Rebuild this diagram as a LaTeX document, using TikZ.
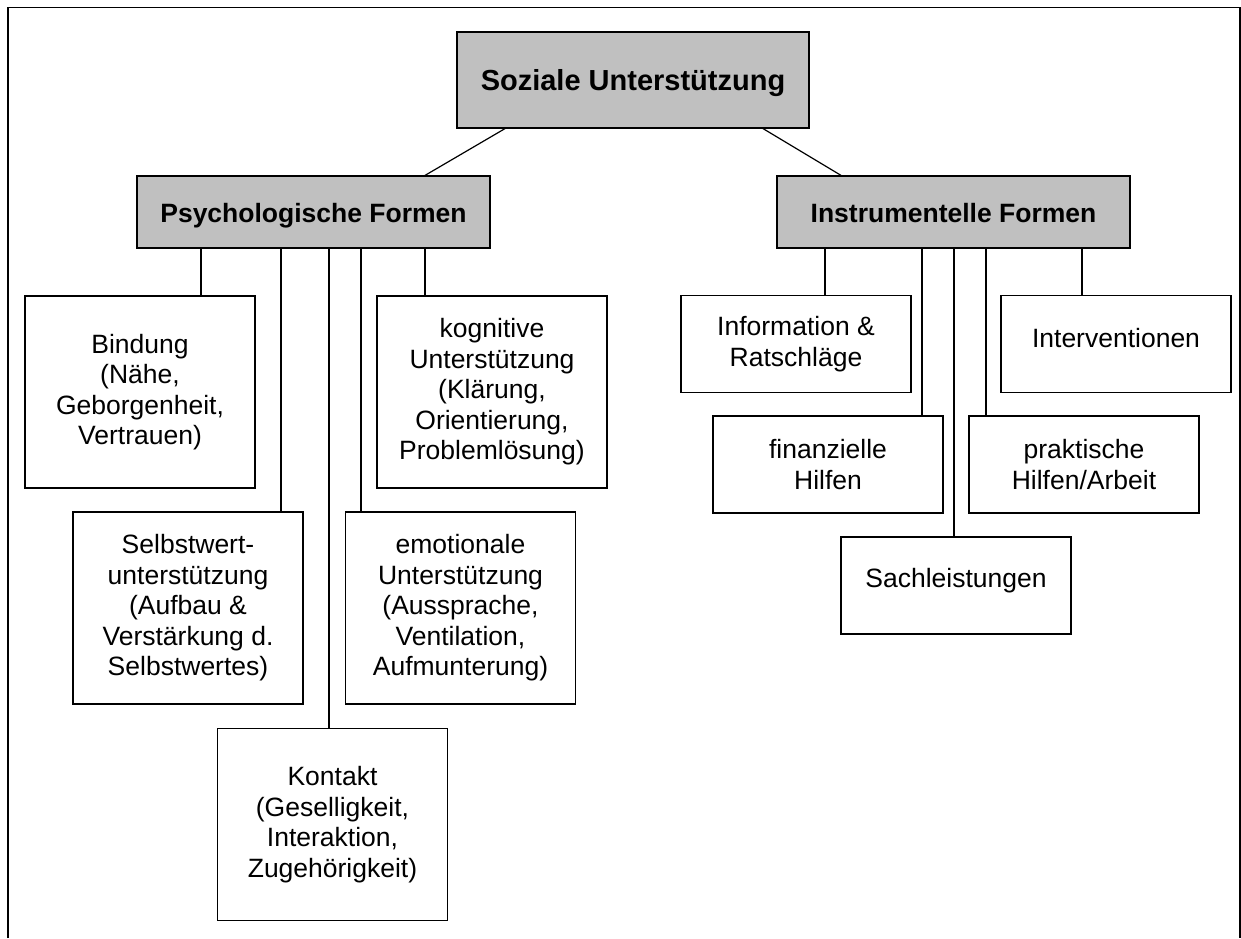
\documentclass[tikz,border=0pt]{standalone}
\usepackage{fontspec}
\setmainfont{Liberation Sans}
\definecolor{silber}{RGB}{192,192,192}

\begin{document}
\begin{tikzpicture}[x=1pt,y=-1pt,
  kasten/.style={draw, line width=1.2pt, minimum width=230pt, inner sep=0pt, align=center, font=\fontsize{26.5}{30.5}\selectfont},
  grau/.style={draw, fill=silber, line width=1.2pt, inner sep=0pt, text height=21pt, text depth=0pt, font=\bfseries\fontsize{26.5}{30.5}\selectfont},
  hoch/.style={minimum height=192pt},
  flach/.style={minimum height=97pt},
  linie/.style={line width=1.2pt}]
\useasboundingbox (0,0) rectangle (1241,938);
\draw[line width=1.2pt] (8,938) -- (8,7.5) -- (1240,7.5) -- (1240,938);

 \node[grau, minimum width=352pt, minimum height=96pt, text height=23pt, text depth=3pt, font=\bfseries\fontsize{29}{33}\selectfont] (sozial) at (633,80) {Soziale Unterstützung};
 \node[grau, minimum width=353pt, minimum height=72pt] (psych) at (313.5,212) {Psychologische Formen};
 \node[grau, minimum width=353pt, minimum height=72pt] (instr) at (953.5,212) {Instrumentelle Formen};

 \node[kasten, hoch] (bindung) at (140,392) {Bindung\\(Nähe,\\Geborgenheit,\\Vertrauen)};
 \node[kasten, hoch] (kognitiv) at (492,392) {kognitive\\Unterstützung\\(Klärung,\\Orientierung,\\Problemlösung)};
 \node[kasten, hoch] (selbst) at (188,608) {Selbstwert-\\unterstützung\\(Aufbau \&\\Verstärkung d.\\Selbstwertes)};
 \node[kasten, hoch] (emot) at (460.5,608) {emotionale\\Unterstützung\\(Aussprache,\\Ventilation,\\Aufmunterung)};
 \node[kasten, hoch] (kontakt) at (332.5,824.5) {Kontakt\\(Geselligkeit,\\Interaktion,\\Zugehörigkeit)};

 \node[kasten, flach] (info) at (796,344) {Information \&\\Ratschläge};
 \node[kasten, flach, text height=19pt, text depth=12pt] (interv) at (1116,344) {Interventionen};
 \node[kasten, flach] (finanz) at (828,464.5) {finanzielle\\Hilfen};
 \node[kasten, flach] (prakt) at (1084,464.5) {praktische\\Hilfen/Arbeit};
 \node[kasten, flach, text height=19pt, text depth=16pt] (sach) at (956,585.5) {Sachleistungen};

\draw[linie] (sozial.south -| 505,0) -- (psych.north -| 425,0);
\draw[linie] (sozial.south -| 763,0) -- (instr.north -| 841,0);

\foreach \x/\ziel in {201/bindung, 281/selbst, 329/kontakt, 361/emot, 425/kognitiv}
  \draw[linie] (psych.south -| \x,0) -- (\ziel.north -| \x,0);
\foreach \x/\ziel in {825/info, 922/finanz, 954/sach, 986/prakt, 1082/interv}
  \draw[linie] (instr.south -| \x,0) -- (\ziel.north -| \x,0);
\end{tikzpicture}
\end{document}
